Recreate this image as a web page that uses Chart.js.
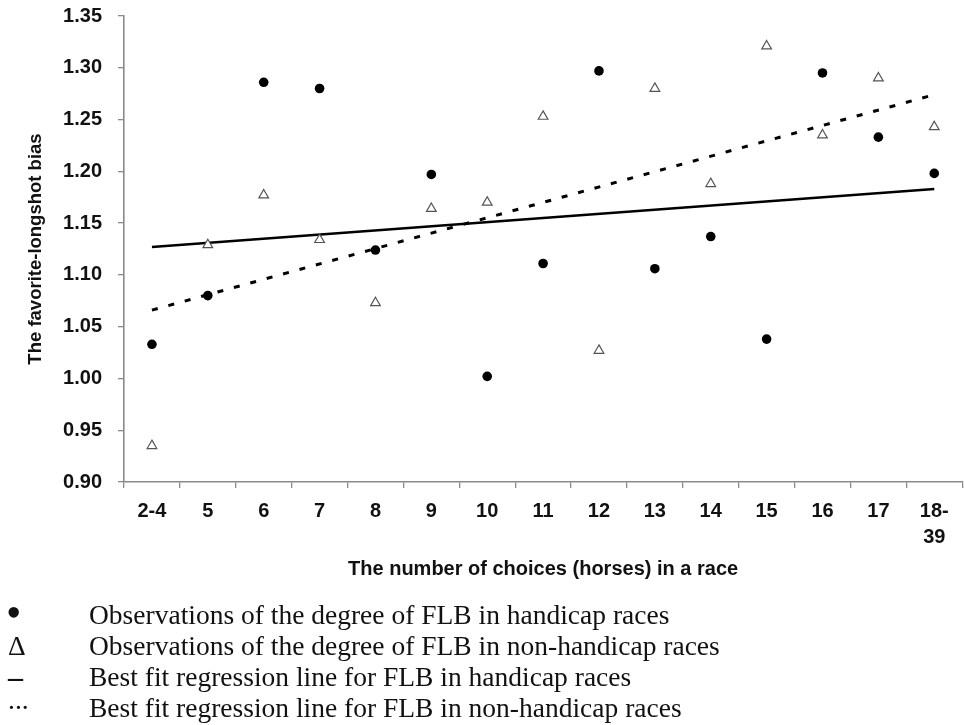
<!DOCTYPE html>
<html><head><meta charset="utf-8">
<script src="https://cdn.jsdelivr.net/npm/chart.js@4.4.0/dist/chart.umd.min.js"></script>
<style>
html,body{margin:0;padding:0;background:#fff;overflow:hidden;width:964px;height:725px;}
#wrap{position:absolute;left:0;top:0;width:969px;height:600px;}
#legend{position:absolute;left:0;top:599px;font-family:"Liberation Serif","Times New Roman",serif;font-size:27.5px;line-height:31px;color:#111;}
.row{position:relative;height:31px;white-space:nowrap;}
.sym{position:absolute;left:8px;top:0;}
.txt{position:absolute;left:89px;top:0;}
</style></head>
<body>
<div id="wrap"><canvas id="c"></canvas></div>
<div id="legend"></div>
<script>
const categories = ['2-4','5','6','7','8','9','10','11','12','13','14','15','16','17',['18-','39']];
const handicapObs = [1.033,1.080,1.286,1.280,1.124,1.197,1.002,1.111,1.297,1.106,1.137,1.038,1.295,1.233,1.198];
const nonHandicapObs = [0.935,1.129,1.177,1.134,1.073,1.164,1.170,1.253,1.027,1.280,1.188,1.321,1.235,1.290,1.243];
const handicapFit = [1.127,null,null,null,null,null,null,null,null,null,null,null,null,null,1.183];
const nonHandicapFit = [1.066,null,null,null,null,null,null,null,null,null,null,null,null,null,1.274];
const yTicks = [0.90,0.95,1.00,1.05,1.10,1.15,1.20,1.25,1.30,1.35];
const legendItems = [
  ['\u2022','Observations of the degree of FLB in handicap races'],
  ['\u0394','Observations of the degree of FLB in non-handicap races'],
  ['\u2013','Best fit regression line for FLB in handicap races'],
  ['...','Best fit regression line for FLB in non-handicap races']
];
const legendSymStyles = [
  'font-size:44px;left:6px;top:-2px;',
  '',
  'font-size:30px;font-weight:bold;',
  'top:-8px;'
];

const axisGray = '#8a8a8a';
const tickFont = {family:'"Liberation Sans", Arial, sans-serif', size:20, weight:'bold', lineHeight:1.27};

new Chart(document.getElementById('c'), {
  type: 'line',
  data: {
    labels: categories,
    datasets: [
      {label:'handicapFit', data: handicapFit, borderColor:'#000', borderWidth:2.6, pointRadius:0, spanGaps:true, fill:false, order:3},
      {label:'nonHandicapFit', data: nonHandicapFit, borderColor:'#000', borderWidth:3, borderDash:[6,11], pointRadius:0, spanGaps:true, fill:false, order:4},
      {label:'handicap', data: handicapObs, showLine:false, pointStyle:'circle', pointRadius:4.8, pointBackgroundColor:'#000', pointBorderColor:'#000', pointBorderWidth:0, order:1},
      {label:'nonHandicap', data: nonHandicapObs, showLine:false, pointStyle:'triangle', pointRadius:5.6, pointBackgroundColor:'#fff', pointBorderColor:'#555', pointBorderWidth:1.2, order:2}
    ]
  },
  options: {
    responsive:true, maintainAspectRatio:false, animation:false,
    layout:{padding:{top:16,left:0,right:0.5,bottom:0}},
    plugins:{legend:{display:false}, tooltip:{enabled:false}},
    scales:{
      x:{
        type:'category', offset:true,
        grid:{display:true, drawOnChartArea:false, offset:true, tickLength:6, color:axisGray, lineWidth:1.3},
        border:{display:true, color:axisGray, width:1.6},
        ticks:{color:'#111', font:tickFont, padding:11, maxRotation:0, autoSkip:false},
        title:{display:true, text:'The number of choices (horses) in a race', color:'#111',
               font:{family:'"Liberation Sans", Arial, sans-serif', size:20, weight:'bold'}, padding:{top:0,bottom:19}},
        afterFit(s){ s.height = 118; s.paddingLeft = 0; s.paddingRight = 0; }
      },
      y:{
        type:'linear', min:0.9, max:1.35,
        afterBuildTicks(s){ s.ticks = yTicks.map(v=>({value:v})); },
        grid:{display:true, drawOnChartArea:false, tickLength:6, color:axisGray, lineWidth:1.3},
        border:{display:true, color:axisGray, width:1.6},
        ticks:{color:'#111', font:tickFont, padding:16, callback:(v)=>Number(v).toFixed(2)},
        title:{display:true, text:'The favorite-longshot bias', color:'#111',
               font:{family:'"Liberation Sans", Arial, sans-serif', size:18.5, weight:'bold'}, padding:{top:24.5,bottom:0}},
        afterFit(s){ s.width = 124; s.paddingTop = 0; s.paddingBottom = 0; }
      }
    }
  }
});

const lg = document.getElementById('legend');
legendItems.forEach(([s,t],i)=>{
  const r = document.createElement('div'); r.className='row';
  const a = document.createElement('span'); a.className='sym'; a.textContent=s; a.style.cssText = legendSymStyles[i];
  const b = document.createElement('span'); b.className='txt'; b.textContent=t;
  r.appendChild(a); r.appendChild(b); lg.appendChild(r);
});
</script>
</body></html>
